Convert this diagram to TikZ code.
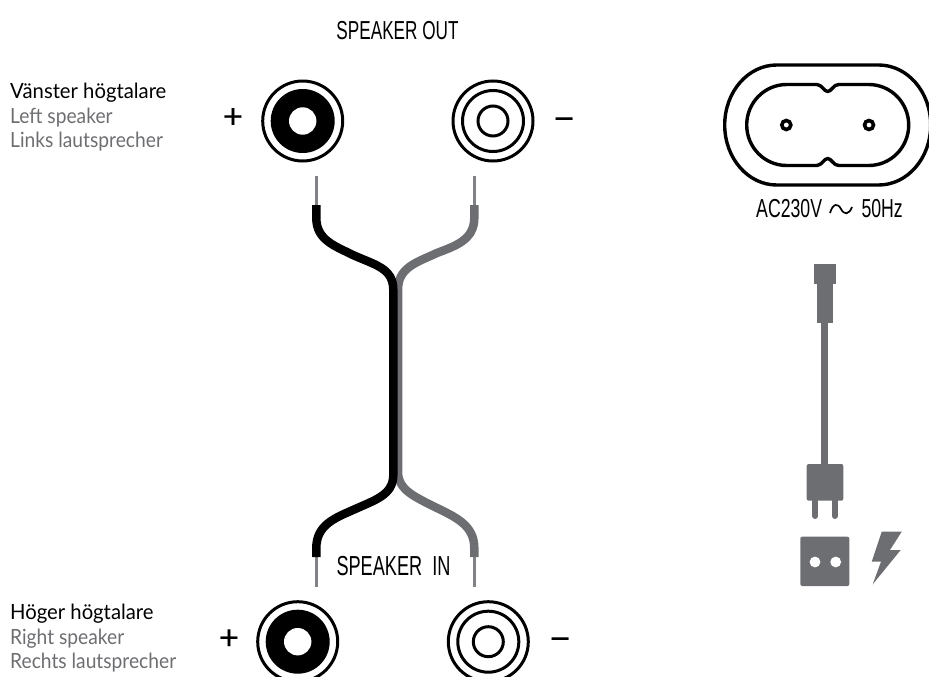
\documentclass[tikz,border=0pt]{standalone}
\usepackage{fontspec}
\setmainfont{Lato}
\newfontfamily\blackfont[FakeStretch=0.965]{Lato}
\newfontfamily\greyfont[FakeStretch=0.915]{Lato}
\newfontfamily\condfont[FakeStretch=0.66]{Liberation Sans}
\newfontfamily\acfont[FakeStretch=0.68]{Liberation Sans}
\newfontfamily\signfont[FakeBold=0.25]{Liberation Sans}
\definecolor{cablegrey}{HTML}{6D6E71}
\definecolor{tipgrey}{HTML}{808285}
\tikzset{
	ring/.style={draw=black, line width=3pt},
	blackcable/.style={draw=black, line width=8.5pt},
	greycable/.style={draw=cablegrey, line width=8.5pt},
	tipcable/.style={draw=tipgrey, line width=3.4pt},
	powerline/.style={draw=black, line width=3.4pt, line join=round},
	pinhole/.style={draw=black, line width=3.6pt},
	panel/.style={font=\condfont\fontsize{26}{26}\selectfont, inner sep=0pt},
	inpanel/.style={font=\condfont\fontsize{27.5}{27.5}\selectfont, inner sep=0pt},
	acpanel/.style={font=\acfont\fontsize{26}{26}\selectfont, inner sep=0pt},
	sign/.style={font=\signfont\fontsize{34}{34}\selectfont, inner sep=0pt},
	blackname/.style={font=\blackfont\fontsize{21}{21}\selectfont, inner sep=0pt, anchor=base west},
	greyname/.style={font=\greyfont\fontsize{21}{21}\selectfont, inner sep=0pt, anchor=base west, text=cablegrey},
}

\begin{document}
\begin{tikzpicture}[x=1pt,y=-1pt]
	\useasboundingbox (0,0) rectangle (929,677);

	\coordinate (jackTL) at (302.7,121);
	\coordinate (jackTR) at (493,121);
	\coordinate (jackBL) at (297.7,641.7);
	\coordinate (jackBR) at (488.3,641.7);
	\coordinate (tipTL) at (316.3,175.7);
	\coordinate (tipTR) at (474.3,175.7);
	\coordinate (tipBL) at (316.3,587);
	\coordinate (tipBR) at (474.3,587);
	\coordinate (sheathTL) at (316.3,205);
	\coordinate (sheathTR) at (474.3,205);
	\coordinate (sheathBL) at (316.3,557);
	\coordinate (sheathBR) at (474.3,557);

	% jacks
	\foreach \jack in {jackTL,jackBL}{
		\draw [ring] (\jack) circle (40);
		\fill [black] (\jack) circle (32);
		\fill [white] (\jack) circle (13.7);
	}
	\foreach \jack in {jackTR,jackBR}{
		\draw [ring] (\jack) circle (40);
		\draw [ring] (\jack) circle (30.5);
		\draw [ring] (\jack) circle (15);
	}

	% cables
	\draw [tipcable] (tipTL)--(sheathTL);
	\draw [tipcable] (tipTR)--(sheathTR);
	\draw [tipcable] (tipBL)--(sheathBL);
	\draw [tipcable] (tipBR)--(sheathBR);
	\draw [greycable] (sheathTR) -- (474.3,218) .. controls (474.3,240) and (455,246) .. (437,253)
		.. controls (415,263) and (398,268) .. (398,290) -- (398,472)
		.. controls (398,490) and (415,497) .. (437,508)
		.. controls (455,517) and (474.3,525) .. (474.3,548) -- (sheathBR);
	\draw [blackcable] (sheathTL) -- (316.3,218) .. controls (316.3,240) and (335,246) .. (353,255)
		.. controls (375,265) and (393.3,268) .. (393.3,290) -- (393.3,475)
		.. controls (393.3,495) and (375,500) .. (353,510)
		.. controls (335,518) and (316.3,525) .. (316.3,548) -- (sheathBL);

	% mains inlet
	\draw [powerline] (776.7,65) arc [start angle=90, end angle=270, x radius=52, y radius=-60]
		-- (878.7,185) arc [start angle=-90, end angle=90, x radius=52, y radius=-60] -- cycle;
	\draw [powerline] (786.7,84.5) arc [start angle=90, end angle=270, x radius=40, y radius=-40.5]
		-- (816.7,165.5) .. controls (822,165.5) and (824,158.5) .. (827.7,158.5)
		.. controls (831.4,158.5) and (833.4,165.5) .. (838.7,165.5)
		-- (868.7,165.5) arc [start angle=-90, end angle=90, x radius=40, y radius=-40.5]
		-- (838.7,84.5) .. controls (833.4,84.5) and (831.4,91.5) .. (827.7,91.5)
		.. controls (824,91.5) and (822,84.5) .. (816.7,84.5) -- cycle;
	\draw [pinhole] (786.3,125) circle (4.5);
	\draw [pinhole] (869,125) circle (4.5);

	% mains cable and plug
	\fill [cablegrey] (814,264) rectangle (836,284);
	\fill [cablegrey] (817,284) rectangle (833.3,323.3);
	\fill [cablegrey] (821.3,323) rectangle (827.7,465);
	\fill [cablegrey, rounded corners=2] (806.7,464) rectangle (843.3,500.7);
	\draw [cablegrey, line width=6pt, line cap=round] (815.3,500) -- (815.3,516);
	\draw [cablegrey, line width=6pt, line cap=round] (834.7,500) -- (834.7,516);

	% wall socket and flash
	\fill [cablegrey, rounded corners=2] (800.3,536.7) rectangle (849.3,586);
	\fill [white] (815,562) circle (5.4);
	\fill [white] (835.7,562) circle (5.4);
	\fill [cablegrey] (881.7,531.7) -- (901.7,531.7) -- (890,550) -- (900.7,550) -- (872.7,584.3)
		-- (881,561.7) -- (871.7,561.7) -- cycle;

	\node [panel] (speakerOut) at (397.5,31) {SPEAKER OUT};
	\node [inpanel] (speakerIn) at (393.5,566) {SPEAKER\hspace{5pt} IN};
	\node [acpanel, anchor=west] (acVolt) at (756,209) {AC230V};
	\node [acpanel, anchor=east] (acFreq) at (903,209) {50Hz};
	\draw [black, line width=1.7pt] (830,213) .. controls (833,203) and (838,203) .. (841,209)
		.. controls (844,215) and (849,215) .. (852,207);

	\node [sign] (plusT) at (233,118) {+};
	\node [sign] (minusT) at (564,123.7) {−};
	\node [sign] (plusB) at (229,639.2) {+};
	\node [sign] (minusB) at (560,643.7) {−};

	\node [blackname] (leftSv) at (10,99) {Vänster högtalare};
	\node [greyname] (leftEn) at (10,123) {Left speaker};
	\node [greyname] (leftDe) at (10,147) {Links lautsprecher};
	\node [blackname] (rightSv) at (10,619) {Höger högtalare};
	\node [greyname] (rightEn) at (10,644) {Right speaker};
	\node [greyname] (rightDe) at (10,668) {Rechts lautsprecher};
\end{tikzpicture}
\end{document}
